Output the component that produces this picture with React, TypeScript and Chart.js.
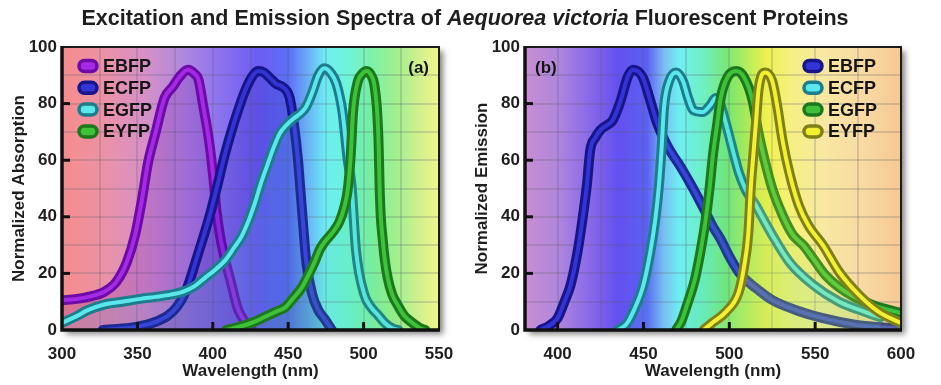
import React, { useEffect, useRef } from 'react';
import { Chart, registerables } from 'chart.js';

Chart.register(...registerables);

const FONT = '"Liberation Sans", Arial, Helvetica, sans-serif';

// ---------- Panel (a): absorption (excitation) spectra ----------
const absEBFPnm = [300, 310, 318, 328, 336, 343, 348.5, 353, 357, 362, 368, 373.5, 378, 383.5, 388, 390.5, 393.7, 398, 400.8, 402.5, 404.7, 408, 411.3, 416.4, 419, 423, 426];
const absEBFPval = [10.5, 11, 11.8, 13.5, 17, 24, 33.6, 46, 59, 69.6, 82, 86, 89.5, 92, 90.5, 88.5, 79, 65, 51.5, 42, 33.6, 25, 18.4, 7.8, 4.9, 1.5, 0];

const absECFPnm = [327, 340, 350, 360, 370, 376, 382, 390, 398, 403, 408, 412.5, 417, 421, 426, 430, 434, 438, 442, 446, 449, 451, 454, 456.5, 458, 459.5, 462, 466, 470, 474, 479];
const absECFPval = [0, 0.5, 1.2, 2.5, 5, 8, 13.5, 26.5, 40.5, 51, 62, 70.5, 78, 84, 89.5, 91.5, 91, 89, 87, 86, 84.5, 82, 72, 60, 50, 40, 24, 12.5, 7, 4, 0];

const absEGFPnm = [300, 310, 317, 328, 340, 352, 362, 372, 380, 388, 395, 402, 408, 414, 419, 424, 428, 432, 436, 440, 444.5, 449, 453, 458, 462, 466, 470, 474, 478, 482, 486, 489.5, 492, 495, 500.5, 505, 509.5, 514, 519, 523];
const absEGFPval = [2.5, 5, 7, 9, 10, 11, 11.7, 12.5, 13.5, 15.5, 18.5, 21.5, 24.5, 29, 33, 39, 45, 52, 58, 64, 69.5, 72.5, 74.5, 76.5, 79, 84, 90, 92.5, 91, 87, 77, 60, 51, 28, 12.5, 8, 5.3, 2.5, 0.6, 0];

const absEYFPnm = [409, 420, 427, 434, 442, 448, 453, 459, 463, 467.5, 471, 474, 479.5, 484, 487.5, 489.6, 491.5, 493, 496, 499, 502, 505, 507, 509, 510, 510.6, 511.4, 512.5, 514, 516, 519, 522.6, 527, 531.5, 538, 541];
const absEYFPval = [0, 1.5, 2.8, 4.5, 6.5, 8, 11, 15, 19, 24, 28.5, 31, 34.5, 38.3, 44, 50, 62, 77, 87.5, 90.5, 91.5, 90, 87, 77, 65, 51, 40, 33, 25, 18.3, 12.5, 8.8, 5, 2.9, 0.5, 0];

// ---------- Panel (b): emission spectra ----------
const emEBFPnm = [390, 395, 400, 404, 407.6, 411.6, 414.6, 417, 419, 422, 425, 429, 432, 436.7, 440.8, 444, 449.5, 454, 458, 464, 471.7, 478, 485, 490, 495, 500, 505.5, 510, 515.5, 525, 539, 554.5, 574, 590, 600];
const emEBFPval = [0, 1.5, 4.2, 10, 16, 27.6, 39.6, 51, 63.5, 68, 70.7, 72.5, 74, 81, 89.4, 92, 89.4, 81, 73, 65, 57.6, 51, 43, 37, 32, 26, 20.5, 17.5, 14.8, 10.6, 7, 4.2, 1.8, 0.9, 0.5];

const emECFPnm = [435, 440, 444, 450, 454, 457, 459, 460.5, 462, 465, 469, 473, 476, 479, 484.5, 489, 492, 494, 498, 502, 505.7, 509.6, 515.5, 520, 525, 535, 548.7, 564, 581, 588];
const emECFPval = [0, 2, 6.4, 16, 27.6, 39.6, 51, 63.6, 78.8, 88, 91, 88, 82, 77.7, 77, 79.5, 82, 81, 73, 63.6, 55.4, 49.5, 44, 39, 33.6, 24, 16, 10, 6, 4.5];

const emEGFPnm = [469, 472, 476, 480, 483, 486, 488.5, 490.5, 493, 495, 499, 504, 508.5, 513.6, 517, 521, 525, 531, 537, 543, 548.7, 556, 568, 583.7, 600];
const emEGFPval = [0, 3, 10, 18, 27, 38, 50, 62, 73, 82, 89.4, 91.5, 89.4, 81, 69.6, 59, 50, 40.6, 33.6, 30, 25.4, 19.4, 13.4, 8.8, 6];

const emEYFPnm = [485, 490, 498, 505.5, 508.5, 511, 512.6, 513.6, 515.5, 517, 521, 525, 528, 531, 535, 540.5, 546, 554.5, 564, 575.5, 587, 600];
const emEYFPval = [0, 2.5, 6.4, 13.4, 22, 33.6, 51, 59, 73, 84.8, 91, 88, 78.8, 67, 55.5, 44, 37, 30, 20.5, 12.4, 6.4, 2.5];

// ---------- Labels and ticks ----------
const seriesLabels = ['EBFP', 'ECFP', 'EGFP', 'EYFP'];
const yLabelTicks = [0, 20, 40, 60, 80, 100];
const yGridTicks = [0, 10, 20, 30, 40, 50, 60, 70, 80, 90, 100];
const xLabelTicksA = [300, 350, 400, 450, 500, 550];
const xGridTicksA = [300, 325, 350, 375, 400, 425, 450, 475, 500, 525, 550];
const xLabelTicksB = [400, 450, 500, 550, 600];
const xGridTicksB = [400, 425, 450, 475, 500, 525, 550, 575, 600];

const PURPLE = { outer: '#6e0aa8', inner: '#a52ae6', fill: 'rgba(110,10,168,0.2)' };
const BLUE_A = { outer: '#16168a', inner: '#3434d6', fill: 'rgba(30,30,170,0.2)' };
const BLUE_B = { outer: '#16168a', inner: '#3434d6', fill: 'rgba(0,0,0,0)' };
const CYAN = { outer: '#1d7d8c', inner: '#5ae8ec', fill: 'rgba(90,235,240,0.1)' };
const GREEN = { outer: '#1c781c', inner: '#3ec23a', fill: 'rgba(70,210,70,0.1)' };
const YELLOW = { outer: '#80801a', inner: '#f2f030', fill: 'rgba(250,250,70,0.18)' };

const panelA = {
  series: [
    { label: seriesLabels[0], nm: absEBFPnm, val: absEBFPval, ...PURPLE },
    { label: seriesLabels[1], nm: absECFPnm, val: absECFPval, ...BLUE_A },
    { label: seriesLabels[2], nm: absEGFPnm, val: absEGFPval, ...CYAN },
    { label: seriesLabels[3], nm: absEYFPnm, val: absEYFPval, ...GREEN },
  ],
  xMin: 300,
  xMax: 550,
  xLabels: xLabelTicksA,
  xGrid: xGridTicksA,
  yTitle: 'Normalized Absorption',
  yTitlePad: 9,
  yWidth: 62,
  padRight: 31,
  tag: '(a)',
  tagSide: 'right',
  legendSide: 'left',
  stops: [
    [300, '#f68c8c'], [330, '#ea92a8'], [355, '#d690c6'], [380, '#b088de'],
    [405, '#8c72ee'], [430, '#6e5cf4'], [450, '#5c6ef6'], [462, '#6aa8f6'],
    [475, '#70eef4'], [490, '#6ef4d8'], [505, '#7cf2aa'], [520, '#9cf08e'],
    [535, '#ccf08e'], [550, '#f2f48c'],
  ] as [number, string][],
};

const panelB = {
  series: [
    { label: seriesLabels[0], nm: emEBFPnm, val: emEBFPval, ...BLUE_B },
    { label: seriesLabels[1], nm: emECFPnm, val: emECFPval, ...CYAN },
    { label: seriesLabels[2], nm: emEGFPnm, val: emEGFPval, ...GREEN },
    { label: seriesLabels[3], nm: emEYFPnm, val: emEYFPval, ...YELLOW },
  ],
  xMin: 381,
  xMax: 600,
  xLabels: xLabelTicksB,
  xGrid: xGridTicksB,
  yTitle: 'Normalized Emission',
  yTitlePad: 2,
  yWidth: 55,
  padRight: 40,
  tag: '(b)',
  tagSide: 'left',
  legendSide: 'right',
  stops: [
    [381, '#c88ed2'], [400, '#b086dc'], [418, '#8a6ae8'], [435, '#6450f0'],
    [452, '#5a60f2'], [462, '#7cbcf4'], [471, '#70f0f0'], [485, '#70f0c2'],
    [498, '#78e878'], [510, '#b4ee5c'], [522, '#eef050'], [535, '#f6f080'],
    [555, '#f8e8a2'], [580, '#f8d8a2'], [600, '#f6c892'],
  ] as [number, string][],
};

type Panel = typeof panelA;

function buildChart(canvas: HTMLCanvasElement, panel: Panel) {
  const datasets: any[] = [];
  const n = panel.series.length;
  panel.series.forEach((s, i) => {
    const pts = s.nm.map((x, k) => ({ x, y: s.val[k] }));
    const rank = (n - 1 - i) * 2;
    const common = {
      pointRadius: 0,
      pointHoverRadius: 0,
      cubicInterpolationMode: 'monotone',
      borderCapStyle: 'round',
      borderJoinStyle: 'round',
      clip: { left: 0, right: 0, top: 8, bottom: 0 },
    };
    datasets.push({ ...common, label: s.label, data: pts, borderColor: s.outer, borderWidth: 10, backgroundColor: s.fill, fill: 'origin', order: rank + 1 });
    datasets.push({ ...common, label: s.label + ' core', data: pts, borderColor: s.inner, borderWidth: 4, fill: false, order: rank });
  });

  const tickFont = { family: FONT, size: 17, weight: 'bold' as const };
  const gridColor = 'rgba(90,90,110,0.22)';

  const bgPlugin = {
    id: 'bgPlugin',
    beforeDraw(chart: any) {
      const { ctx, chartArea: a, scales } = chart;
      const x0 = scales.x.getPixelForValue(panel.xMin);
      const x1 = scales.x.getPixelForValue(panel.xMax);
      const g = ctx.createLinearGradient(x0, 0, x1, 0);
      panel.stops.forEach(([nm, c]) => {
        g.addColorStop(Math.min(1, Math.max(0, (nm - panel.xMin) / (panel.xMax - panel.xMin))), c);
      });
      ctx.save();
      ctx.shadowColor = 'rgba(0,0,0,0.5)';
      ctx.shadowBlur = 6;
      ctx.shadowOffsetX = 4;
      ctx.shadowOffsetY = 4;
      ctx.fillStyle = g;
      ctx.fillRect(a.left, a.top, a.right - a.left, a.bottom - a.top);
      ctx.restore();
    },
  };

  const decoPlugin = {
    id: 'decoPlugin',
    afterDraw(chart: any) {
      const { ctx, chartArea: a, scales } = chart;
      ctx.save();
      // inward tick marks
      ctx.strokeStyle = '#111';
      ctx.lineWidth = 3;
      yLabelTicks.forEach((v) => {
        if (v === 0 || v === 100) return;
        const py = scales.y.getPixelForValue(v);
        ctx.beginPath();
        ctx.moveTo(a.left, py);
        ctx.lineTo(a.left + 8, py);
        ctx.stroke();
      });
      panel.xLabels.forEach((v) => {
        if (v === panel.xMin || v === panel.xMax) return;
        const px = scales.x.getPixelForValue(v);
        ctx.beginPath();
        ctx.moveTo(px, a.bottom);
        ctx.lineTo(px, a.bottom - 8);
        ctx.stroke();
      });
      // frame
      ctx.lineWidth = 2;
      ctx.strokeStyle = '#1a1a1a';
      ctx.strokeRect(a.left, a.top, a.right - a.left, a.bottom - a.top);
      ctx.lineWidth = 3.5;
      ctx.strokeStyle = '#111';
      ctx.beginPath();
      ctx.moveTo(a.left, a.top - 1);
      ctx.lineTo(a.left, a.bottom);
      ctx.lineTo(a.right + 1, a.bottom);
      ctx.stroke();
      // legend
      ctx.font = `bold 18px ${FONT}`;
      ctx.textBaseline = 'middle';
      ctx.textAlign = 'left';
      const pillX = panel.legendSide === 'left' ? a.left + 17 : a.right - 97;
      panel.series.forEach((s, i) => {
        const cy = a.top + 19 + i * 21.8;
        ctx.beginPath();
        ctx.roundRect(pillX, cy - 5.5, 18, 11, 5.5);
        ctx.fillStyle = s.inner;
        ctx.fill();
        ctx.lineWidth = 3.5;
        ctx.strokeStyle = s.outer;
        ctx.stroke();
        ctx.fillStyle = '#151515';
        ctx.fillText(s.label, pillX + 24, cy + 1);
      });
      // panel tag
      ctx.font = `bold 17px ${FONT}`;
      if (panel.tagSide === 'right') {
        ctx.textAlign = 'right';
        ctx.fillText(panel.tag, a.right - 10, a.top + 21);
      } else {
        ctx.textAlign = 'left';
        ctx.fillText(panel.tag, a.left + 10, a.top + 21);
      }
      ctx.restore();
    },
  };

  return new Chart(canvas, {
    type: 'line',
    data: { datasets },
    plugins: [bgPlugin, decoPlugin],
    options: {
      responsive: false,
      animation: false,
      devicePixelRatio: 1,
      events: [],
      layout: { padding: { left: 0, right: panel.padRight, top: 47, bottom: 0 } },
      plugins: {
        legend: { display: false },
        tooltip: { enabled: false },
        title: { display: false },
      },
      scales: {
        x: {
          type: 'linear',
          min: panel.xMin,
          max: panel.xMax,
          afterFit: (s: any) => { s.height = 55; },
          afterBuildTicks: (s: any) => { s.ticks = panel.xGrid.map((v) => ({ value: v })); },
          border: { display: false },
          grid: {
            drawTicks: false,
            lineWidth: 2,
            color: (c: any) => (c.tick && (c.tick.value === panel.xMin || c.tick.value === panel.xMax) ? 'rgba(0,0,0,0)' : gridColor),
          },
          ticks: {
            autoSkip: false,
            maxRotation: 0,
            padding: 14,
            color: '#1e1e1e',
            font: tickFont,
            callback: (v: any) => (panel.xLabels.includes(Number(v)) ? String(v) : ''),
          },
          title: {
            display: true,
            text: 'Wavelength (nm)',
            color: '#1e1e1e',
            font: { family: FONT, size: 17, weight: 'bold' },
            padding: { top: 0, bottom: 3 },
          },
        },
        y: {
          type: 'linear',
          min: 0,
          max: 100,
          afterFit: (s: any) => { s.width = panel.yWidth; },
          afterBuildTicks: (s: any) => { s.ticks = yGridTicks.map((v) => ({ value: v })); },
          border: { display: false },
          grid: {
            drawTicks: false,
            lineWidth: 2,
            color: (c: any) => (c.tick && (c.tick.value === 0 || c.tick.value === 100) ? 'rgba(0,0,0,0)' : gridColor),
          },
          ticks: {
            autoSkip: false,
            padding: 5,
            color: '#1e1e1e',
            font: tickFont,
            callback: (v: any) => (yLabelTicks.includes(Number(v)) ? String(v) : ''),
          },
          title: {
            display: true,
            text: panel.yTitle,
            color: '#1e1e1e',
            font: { family: FONT, size: 17, weight: 'bold' },
            padding: { top: panel.yTitlePad, bottom: 0 },
          },
        },
      },
    } as any,
  });
}

export default function App() {
  const refA = useRef<HTMLCanvasElement | null>(null);
  const refB = useRef<HTMLCanvasElement | null>(null);

  useEffect(() => {
    const a = buildChart(refA.current as HTMLCanvasElement, panelA);
    const b = buildChart(refB.current as HTMLCanvasElement, panelB);
    return () => {
      a.destroy();
      b.destroy();
    };
  }, []);

  return (
    <div style={{ position: 'fixed', left: 0, top: 0, width: 941, height: 385, background: '#ffffff', overflow: 'hidden' }}>
      <canvas ref={refA} width={470} height={385} style={{ position: 'absolute', left: 0, top: 0, width: 470, height: 385 }} />
      <canvas ref={refB} width={471} height={385} style={{ position: 'absolute', left: 470, top: 0, width: 471, height: 385 }} />
      <div
        style={{
          position: 'absolute',
          left: 0,
          top: 5,
          width: 930,
          textAlign: 'center',
          fontFamily: FONT,
          fontWeight: 'bold',
          fontSize: 21.5,
          lineHeight: '26px',
          color: '#1e1e1e',
          whiteSpace: 'nowrap',
        }}
      >
        Excitation and Emission Spectra of <i>Aequorea victoria</i> Fluorescent Proteins
      </div>
    </div>
  );
}
